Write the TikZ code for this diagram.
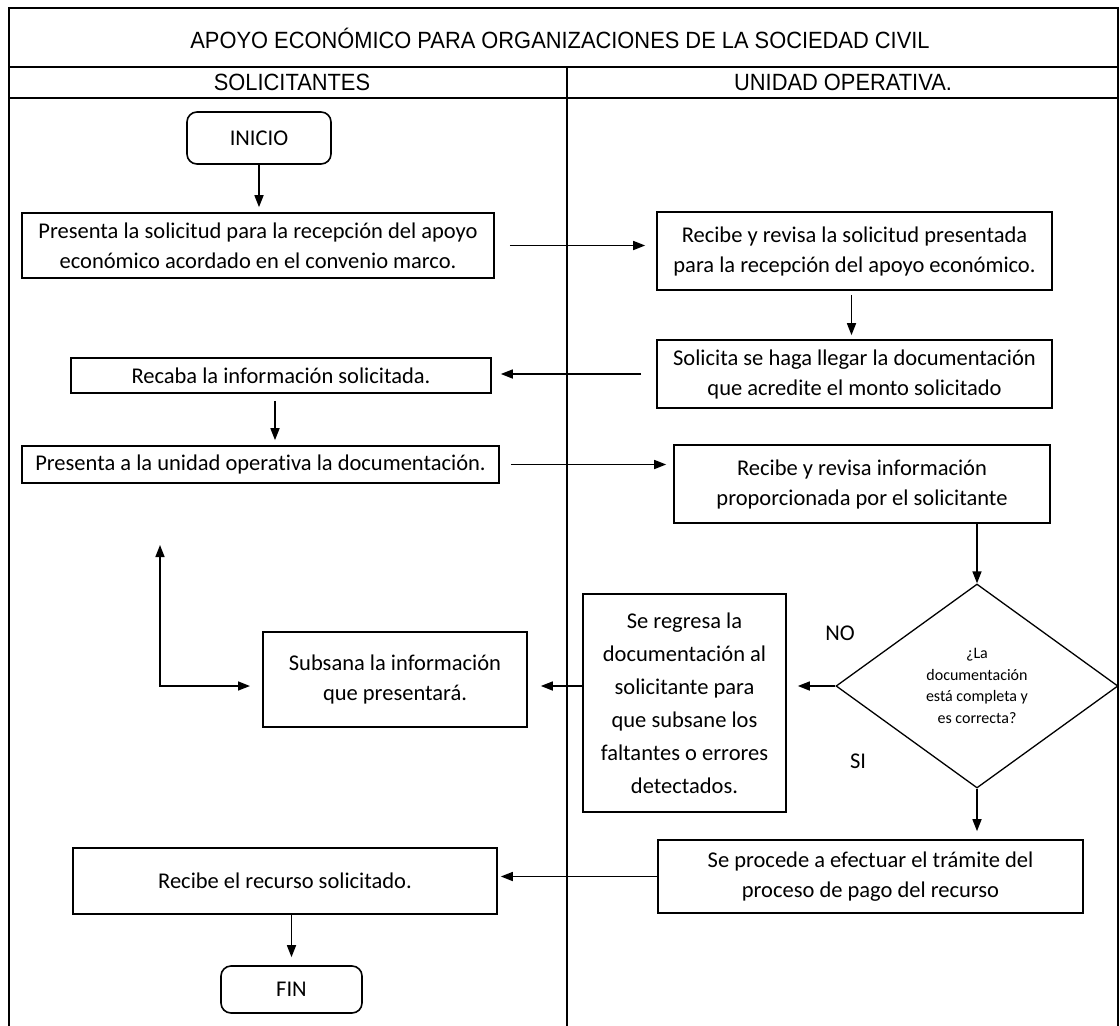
\documentclass[tikz,border=0pt]{standalone}
\usepackage{graphicx}
\usepackage{fontspec}
\setmainfont{Carlito}[Ligatures=NoCommon]
\newfontfamily\arialf{Liberation Sans}
\usetikzlibrary{arrows.meta,shapes.geometric,calc}
\begin{document}
\begin{tikzpicture}[x=1pt,y=-1pt,
  box/.style={draw,line width=1.6pt,rectangle,align=center,inner sep=0pt,font=\fontsize{22.5}{30}\selectfont},
  term/.style={box,rounded corners=10pt},
  decision/.style={draw,line width=1.3pt,diamond,align=center,inner sep=0pt,font=\fontsize{16}{21.5}\selectfont},
  lbl/.style={font=\fontsize{22.5}{26}\selectfont,inner sep=0pt},
  arr/.style={line width=1.5pt,-{Triangle[length=12pt,width=9pt]}},
  dblarr/.style={line width=1.5pt,{Triangle[length=12pt,width=9pt]}-{Triangle[length=12pt,width=9pt]}},
  hdr/.style={font=\arialf\fontsize{23.5}{26}\selectfont,inner sep=0pt},
  frameline/.style={line width=1.4pt}]
\useasboundingbox (0,0) rectangle (1120,1026);
% frame
\draw[frameline] (9,1026) -- (9,8) -- (1118,8) -- (1118,1026);
\draw[frameline] (9,67) -- (1118,67);
\draw[frameline] (9,98) -- (1118,98);
\draw[frameline] (567,67) -- (567,1026);
\node[hdr] (title) at (560,38) {\scalebox{0.93}[1]{APOYO ECONÓMICO PARA ORGANIZACIONES DE LA SOCIEDAD CIVIL}};
\node[hdr] (h1) at (292,82) {\scalebox{0.93}[1]{SOLICITANTES}};
\node[hdr] (h2) at (843,82) {\scalebox{0.93}[1]{UNIDAD OPERATIVA.}};
% nodes
\node[term,minimum width=144pt,minimum height=52pt] (ini) at (259,138) {INICIO};
\node[box,minimum width=472pt,minimum height=65pt] (b1) at (258,245.5) {Presenta la solicitud para la recepción del apoyo\\económico acordado en el convenio marco.};
\node[box,minimum width=395pt,minimum height=78pt] (b2) at (854.5,251) {Recibe y revisa la solicitud presentada\\para la recepción del apoyo económico.};
\node[box,minimum width=395pt,minimum height=68pt] (b3) at (854.5,374) {Solicita se haga llegar la documentación\\que acredite el monto solicitado};
\node[box,minimum width=420pt,minimum height=35pt] (b4) at (281,375.5) {Recaba la información solicitada.};
\node[box,minimum width=477pt,minimum height=37pt] (b5) at (260.5,464.5) {Presenta a la unidad operativa la documentación.};
\node[box,minimum width=376pt,minimum height=78pt] (b6) at (862,484) {Recibe y revisa información\\proporcionada por el solicitante};
\node[decision,minimum width=282pt,minimum height=204pt] (dia) at (977,686) {¿La\\documentación\\está completa y\\es correcta?};
\node[box,minimum width=203pt,minimum height=218pt,font=\fontsize{22.5}{33}\selectfont] (b7) at (684.5,703) {Se regresa la\\documentación al\\solicitante para\\que subsane los\\faltantes o errores\\detectados.};
\node[box,minimum width=264pt,minimum height=95pt] (b8) at (395,679.5) {Subsana la información\\que presentará.};
\node[box,minimum width=425pt,minimum height=73pt] (b9) at (870.5,876.5) {Se procede a efectuar el trámite del\\proceso de pago del recurso};
\node[box,minimum width=424pt,minimum height=66pt] (b10) at (285,881) {Recibe el recurso solicitado.};
\node[term,minimum width=141pt,minimum height=47pt] (fin) at (291.5,989.5) {FIN};
\node[lbl] (no) at (840,633) {NO};
\node[lbl] (si) at (858,761) {SI};
% connectors
\draw[arr,shorten >=5pt] (ini.south) -- (ini.south |- b1.north);
\draw[arr,shorten <=15pt,shorten >=11pt] (b1.east) -- (b1.east -| b2.west);
\draw[arr,shorten <=4pt,shorten >=4pt] ([xshift=-3pt]b2.south) -- ([xshift=-3pt]b3.north);
\draw[arr,shorten <=15pt,shorten >=9pt] (b3.west) -- (b3.west -| b4.east);
\draw[arr,shorten <=7pt,shorten >=5pt] ([xshift=-6pt]b4.south) -- ([xshift=-6pt]b4.south |- b5.north);
\draw[arr,shorten <=11pt,shorten >=7pt] (b5.east) -- (b5.east -| b6.west);
\draw[arr] (dia.north |- b6.south) -- (dia.north);
\draw[arr,shorten >=11pt] (dia.west) -- (dia.west -| b7.east);
\draw[arr,shorten >=13pt] (b7.west |- dia.west) -- (dia.west -| b8.east);
\draw[arr,shorten >=8pt] (dia.south) -- (dia.south |- b9.north);
\draw[arr,shorten >=3pt] (b9.west) -- (b9.west -| b10.east);
\draw[arr,shorten >=8pt] (fin.north |- b10.south) -- (fin.north);
\coordinate (lt) at (160,545);
\coordinate (le) at (250,686);
\draw[dblarr] (lt) |- (le);
\end{tikzpicture}
\end{document}
